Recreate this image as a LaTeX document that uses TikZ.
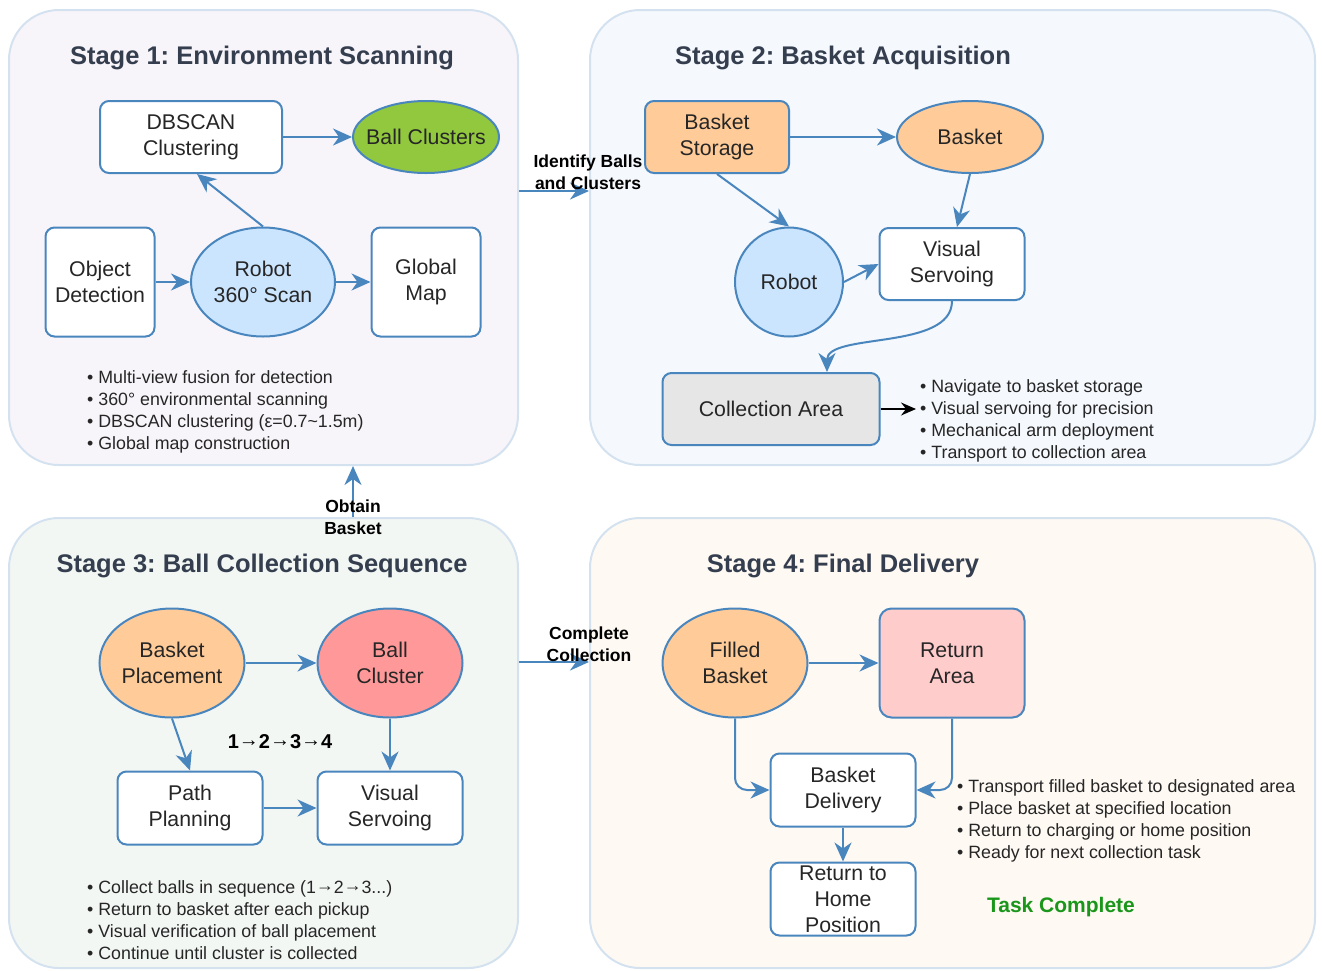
\documentclass[tikz,border=0pt]{standalone}
\usepackage{fontspec}
\setmainfont{Liberation Sans}
\usetikzlibrary{shapes.geometric, arrows.meta, positioning, calc}
\definecolor{linkblue}{RGB}{74, 134, 190}
\definecolor{panelline}{RGB}{212, 226, 240}
\definecolor{titlegray}{RGB}{52, 62, 78}
\definecolor{stageonebg}{RGB}{248, 245, 250}
\definecolor{stagetwobg}{RGB}{245, 248, 252}
\definecolor{stagethreebg}{RGB}{243, 247, 244}
\definecolor{stagefourbg}{RGB}{254, 249, 243}
\definecolor{ballgreen}{RGB}{146, 200, 62}
\definecolor{robotblue}{RGB}{204, 229, 255}
\definecolor{basketorange}{RGB}{255, 204, 153}
\definecolor{clusterred}{RGB}{255, 153, 153}
\definecolor{returnpink}{RGB}{255, 204, 204}
\definecolor{areagray}{RGB}{230, 230, 230}
\definecolor{donegreen}{RGB}{26, 150, 26}
\newcommand{\seqarrow}{\raisebox{0.12em}{→}}
\tikzset{
  panel/.style={draw=panelline, line width=2pt, rounded corners=50pt, minimum width=509pt, minimum height=455pt, inner sep=0pt},
  stagetitle/.style={font=\fontsize{25.5}{30}\selectfont\bfseries, text=titlegray},
  box/.style={draw=linkblue, line width=2pt, fill=white, rounded corners=9pt, align=center, inner sep=0pt, font=\fontsize{21.3}{26}\selectfont, text=black!85},
  oval/.style={box, ellipse, sharp corners},
  flow/.style={draw=linkblue, line width=2pt, -{Stealth[length=19pt, width=17pt, inset=6pt]}},
  bullets/.style={align=left, anchor=west, inner sep=0pt, font=\fontsize{17.8}{22}\selectfont, text=black!85},
  edgelabel/.style={align=center, inner sep=0pt, font=\fontsize{17.5}{22}\selectfont\bfseries}
}

\begin{document}
\frenchspacing
\begin{tikzpicture}[x=1pt, y=-1pt]
  \useasboundingbox (0,0) rectangle (1322,970);

  % Stage panels
  \node[panel, fill=stageonebg] (s1) at (263.5,237.5) {};
  \node[panel, fill=stagetwobg, minimum width=725pt] (s2) at (952.5,237.5) {};
  \node[panel, fill=stagethreebg, minimum height=450pt] (s3) at (263.5,743) {};
  \node[panel, fill=stagefourbg, minimum width=725pt, minimum height=450pt] (s4) at (952.5,743) {};

  \node[stagetitle] (t1) at (262,58) {Stage 1: Environment Scanning};
  \node[stagetitle] (t2) at (843,58) {Stage 2: Basket Acquisition};
  \node[stagetitle] (t3) at (262,566) {Stage 3: Ball Collection Sequence};
  \node[stagetitle] (t4) at (843,566) {Stage 4: Final Delivery};

  % Stage 1
  \node[box, minimum width=182pt, minimum height=72pt] (dbscan) at (191,137) {DBSCAN\\Clustering};
  \node[oval, fill=ballgreen, minimum width=146pt, minimum height=72pt, inner xsep=-12pt] (clusters) at (426,137) {Ball Clusters};
  \node[box, minimum width=109pt, minimum height=109pt] (detect) at (100,282) {Object\\Detection};
  \node[oval, fill=robotblue, minimum width=144pt, minimum height=109pt] (scan) at (263,282) {Robot\\360° Scan};
  \node[box, minimum width=109pt, minimum height=109pt] (gmap) at (426,282) {Global\\Map};

  \draw[flow] (dbscan) -- (clusters);
  \draw[flow] (detect) -- (scan);
  \draw[flow] (scan) -- (gmap);
  \draw[flow] (scan.north) -- ($(dbscan.south)+(6,0)$);

  \node[bullets] (notes1) at (87,412) {• Multi-view fusion for detection\\• 360° environmental scanning\\• DBSCAN clustering (ε=0.7\textasciitilde1.5m)\\• Global map construction};

  % Stage 2
  \node[box, fill=basketorange, minimum width=144pt, minimum height=72pt] (storage) at (717,137) {Basket\\Storage};
  \node[oval, fill=basketorange, minimum width=146pt, minimum height=72pt] (basket) at (970,137) {Basket};
  \node[oval, fill=robotblue, minimum width=108pt, minimum height=109pt] (robot) at (789,282) {Robot};
  \node[box, minimum width=145pt, minimum height=72pt] (servo) at (952,264) {Visual\\Servoing};
  \node[box, fill=areagray, minimum width=217pt, minimum height=72pt] (area) at (771,409) {Collection Area};
  \coordinate (areain) at ($(area.north)+(56,0)$);

  \draw[flow] (storage) -- (basket);
  \draw[flow] (storage.south) -- (robot.north);
  \draw[flow] (basket.south) -- ($(servo.north)+(5,0)$);
  \draw[flow] (robot.east) -- (servo.west);
  \draw[flow] (servo.south) .. controls +(0,50) and +(0,-40) .. (areain);

  \node[bullets] (notes2) at (920,421) {• Navigate to basket storage\\• Visual servoing for precision\\• Mechanical arm deployment\\• Transport to collection area};
  \draw[-{Stealth[length=15pt, width=13pt, inset=5pt]}, line width=1.5pt, shorten >=4pt] (area.east) -- (area.east -| notes2.west);

  % Stage 3
  \node[oval, fill=basketorange, minimum width=145pt, minimum height=109pt] (place) at (172,663) {Basket\\Placement};
  \node[oval, fill=clusterred, minimum width=145pt, minimum height=109pt] (cluster) at (390,663) {Ball\\Cluster};
  \node[box, minimum width=145pt, minimum height=73pt] (path) at (190,808) {Path\\Planning};
  \node[box, minimum width=145pt, minimum height=73pt] (servo3) at (390,808) {Visual\\Servoing};
  \node[font=\fontsize{20}{24}\selectfont\bfseries] (order) at (280,742) {1\seqarrow2\seqarrow3\seqarrow4};

  \draw[flow] (place) -- (cluster);
  \draw[flow] (place.south) -- (path.north);
  \draw[flow] (cluster) -- (servo3);
  \draw[flow] (path) -- (servo3);

  \node[bullets] (notes3) at (87,920) {• Collect balls in sequence (1\seqarrow2\seqarrow3...)\\• Return to basket after each pickup\\• Visual verification of ball placement\\• Continue until cluster is collected};

  % Stage 4
  \node[oval, fill=basketorange, minimum width=145pt, minimum height=109pt] (filled) at (735,663) {Filled\\Basket};
  \node[box, fill=returnpink, rounded corners=12pt, minimum width=145pt, minimum height=109pt] (retarea) at (952,663) {Return\\Area};
  \node[box, minimum width=145pt, minimum height=73pt] (deliver) at (843,790) {Basket\\Delivery};
  \node[box, minimum width=145pt, minimum height=73pt] (home) at (843,899) {Return to\\Home\\Position};

  \draw[flow] (filled) -- (retarea);
  \draw[flow, rounded corners=12pt] (filled.south) |- (deliver.west);
  \draw[flow, rounded corners=12pt] (retarea.south) |- (deliver.east);
  \draw[flow] (deliver) -- (home);

  \node[bullets] (notes4) at (957,821) {• Transport filled basket to designated area\\• Place basket at specified location\\• Return to charging or home position\\• Ready for next collection task};
  \node[font=\fontsize{21}{25}\selectfont\bfseries, text=donegreen] (done) at (1061,907) {Task Complete};

  % Links between stages
  \coordinate (idpt) at (554,191);
  \coordinate (obpt) at (353,490);
  \coordinate (ccpt) at (554,662);
  \draw[flow] (s1.east |- idpt) -- (s2.west |- idpt);
  \draw[flow] (s3.north -| obpt) -- (s1.south -| obpt);
  \draw[flow] (s3.east |- ccpt) -- (s4.west |- ccpt);
  \node[edgelabel] (idlbl) at (588,172) {Identify Balls\\and Clusters};
  \node[edgelabel] (oblbl) at (353,517) {Obtain\\Basket};
  \node[edgelabel] (cclbl) at (589,644) {Complete\\Collection};
\end{tikzpicture}
\end{document}
